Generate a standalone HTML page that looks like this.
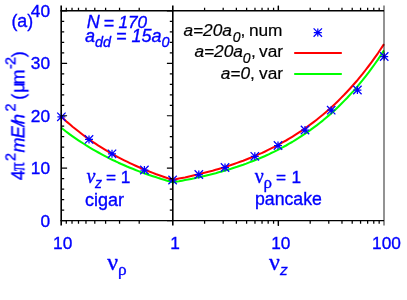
<!DOCTYPE html><html><head><meta charset="utf-8"><style>html,body{margin:0;padding:0;background:#fff}svg{display:block}text{font-family:"Liberation Sans",sans-serif;filter:url(#f)}text[fill="#0000ff"]{stroke:#0000ff;stroke-width:0.35px}text[fill="#000"]{stroke:#000;stroke-width:0.2px}.ser{font-family:"Liberation Serif",serif}.san{font-family:"Liberation Sans",sans-serif}</style></head><body>
<svg width="407" height="300" viewBox="0 0 407 300">
<defs><filter id="f" x="-5%" y="-5%" width="110%" height="110%"><feOffset dx="0" dy="0"/></filter></defs><rect width="407" height="300" fill="#fff"/>
<polyline points="61.2,127.8 64.1,130.0 66.9,132.2 69.8,134.3 72.6,136.3 75.5,138.3 78.4,140.3 81.2,142.2 84.1,144.0 87.0,145.8 89.8,147.6 92.7,149.3 95.5,150.9 98.4,152.5 101.3,154.1 104.1,155.6 107.0,157.1 109.8,158.6 112.7,160.0 115.6,161.3 118.4,162.7 121.3,164.0 124.2,165.2 127.0,166.5 129.9,167.7 132.7,168.8 135.6,170.0 138.5,171.1 141.3,172.2 144.2,173.2 147.0,174.2 149.9,175.2 152.8,176.2 155.6,177.1 158.5,178.1 161.4,179.0 164.2,179.8 167.1,180.7 169.9,181.5 172.8,182.3 172.8,182.4 175.9,181.8 178.9,181.3 182.0,180.7 185.0,180.1 188.1,179.5 191.2,178.9 194.2,178.3 197.3,177.6 200.3,176.9 203.4,176.2 206.5,175.5 209.5,174.8 212.6,174.0 215.7,173.2 218.7,172.3 221.8,171.5 224.8,170.6 227.9,169.7 231.0,168.8 234.0,167.8 237.1,166.8 240.1,165.7 243.2,164.7 246.3,163.6 249.3,162.4 252.4,161.3 255.4,160.0 258.5,158.8 261.6,157.5 264.6,156.2 267.7,154.8 270.7,153.3 273.8,151.9 276.9,150.3 279.9,148.8 283.0,147.2 286.1,145.5 289.1,143.7 292.2,142.0 295.2,140.1 298.3,138.2 301.4,136.2 304.4,134.2 307.5,132.1 310.5,129.9 313.6,127.7 316.7,125.4 319.7,123.0 322.8,120.6 325.8,118.0 328.9,115.4 332.0,112.7 335.0,109.9 338.1,107.0 341.1,104.0 344.2,100.9 347.3,97.7 350.3,94.4 353.4,91.1 356.5,87.6 359.5,83.9 362.6,80.2 365.6,76.3 368.7,72.4 371.8,68.2 374.8,64.0 377.9,59.6 380.9,55.1 384.0,50.4" fill="none" stroke="#00ff00" stroke-width="2.05" stroke-linejoin="round"/>
<polyline points="61.2,116.7 64.1,119.3 66.9,121.9 69.8,124.3 72.6,126.7 75.5,129.0 78.4,131.3 81.2,133.5 84.1,135.7 87.0,137.8 89.8,139.8 92.7,141.8 95.5,143.7 98.4,145.6 101.3,147.4 104.1,149.1 107.0,150.9 109.8,152.5 112.7,154.2 115.6,155.8 118.4,157.3 121.3,158.8 124.2,160.3 127.0,161.7 129.9,163.1 132.7,164.4 135.6,165.7 138.5,167.0 141.3,168.2 144.2,169.5 147.0,170.6 149.9,171.8 152.8,172.9 155.6,174.0 158.5,175.0 161.4,176.0 164.2,177.0 167.1,178.0 169.9,178.9 172.8,179.9 172.8,179.8 175.9,179.2 178.9,178.6 182.0,178.0 185.0,177.4 188.1,176.7 191.2,176.0 194.2,175.3 197.3,174.6 200.3,173.9 203.4,173.1 206.5,172.3 209.5,171.5 212.6,170.7 215.7,169.8 218.7,168.9 221.8,168.0 224.8,167.0 227.9,166.1 231.0,165.0 234.0,164.0 237.1,162.9 240.1,161.8 243.2,160.7 246.3,159.5 249.3,158.3 252.4,157.1 255.4,155.8 258.5,154.4 261.6,153.1 264.6,151.7 267.7,150.2 270.7,148.7 273.8,147.2 276.9,145.6 279.9,143.9 283.0,142.2 286.1,140.5 289.1,138.7 292.2,136.8 295.2,134.9 298.3,132.9 301.4,130.9 304.4,128.8 307.5,126.6 310.5,124.4 313.6,122.1 316.7,119.7 319.7,117.3 322.8,114.8 325.8,112.2 328.9,109.5 332.0,106.7 335.0,103.9 338.1,100.9 341.1,97.9 344.2,94.8 347.3,91.5 350.3,88.2 353.4,84.8 356.5,81.3 359.5,77.6 362.6,73.9 365.6,70.0 368.7,66.0 371.8,61.9 374.8,57.6 377.9,53.3 380.9,48.8 384.0,44.1" fill="none" stroke="#ff0000" stroke-width="2.05" stroke-linejoin="round"/>
<path d="M57.40,116.80H65.40M61.40,112.80V120.80M57.20,112.60L65.60,121.00M57.20,121.00L65.60,112.60" stroke="#0000ff" stroke-width="1.25" fill="none"/>
<path d="M85.00,139.40H93.00M89.00,135.40V143.40M84.80,135.20L93.20,143.60M84.80,143.60L93.20,135.20" stroke="#0000ff" stroke-width="1.25" fill="none"/>
<path d="M108.00,153.80H116.00M112.00,149.80V157.80M107.80,149.60L116.20,158.00M107.80,158.00L116.20,149.60" stroke="#0000ff" stroke-width="1.25" fill="none"/>
<path d="M140.40,170.00H148.40M144.40,166.00V174.00M140.20,165.80L148.60,174.20M140.20,174.20L148.60,165.80" stroke="#0000ff" stroke-width="1.25" fill="none"/>
<path d="M168.60,180.00H176.60M172.60,176.00V184.00M168.40,175.80L176.80,184.20M168.40,184.20L176.80,175.80" stroke="#0000ff" stroke-width="1.25" fill="none"/>
<path d="M194.80,174.50H202.80M198.80,170.50V178.50M194.60,170.30L203.00,178.70M194.60,178.70L203.00,170.30" stroke="#0000ff" stroke-width="1.25" fill="none"/>
<path d="M221.00,167.50H229.00M225.00,163.50V171.50M220.80,163.30L229.20,171.70M220.80,171.70L229.20,163.30" stroke="#0000ff" stroke-width="1.25" fill="none"/>
<path d="M250.80,156.30H258.80M254.80,152.30V160.30M250.60,152.10L259.00,160.50M250.60,160.50L259.00,152.10" stroke="#0000ff" stroke-width="1.25" fill="none"/>
<path d="M274.00,145.50H282.00M278.00,141.50V149.50M273.80,141.30L282.20,149.70M273.80,149.70L282.20,141.30" stroke="#0000ff" stroke-width="1.25" fill="none"/>
<path d="M301.00,130.00H309.00M305.00,126.00V134.00M300.80,125.80L309.20,134.20M300.80,134.20L309.20,125.80" stroke="#0000ff" stroke-width="1.25" fill="none"/>
<path d="M327.20,110.20H335.20M331.20,106.20V114.20M327.00,106.00L335.40,114.40M327.00,114.40L335.40,106.00" stroke="#0000ff" stroke-width="1.25" fill="none"/>
<path d="M353.40,90.00H361.40M357.40,86.00V94.00M353.20,85.80L361.60,94.20M353.20,94.20L361.60,85.80" stroke="#0000ff" stroke-width="1.25" fill="none"/>
<path d="M380.20,56.50H388.20M384.20,52.50V60.50M380.00,52.30L388.40,60.70M380.00,60.70L388.40,52.30" stroke="#0000ff" stroke-width="1.25" fill="none"/>
<line x1="294.2" x2="341.8" y1="52.9" y2="52.9" stroke="#ff0000" stroke-width="2"/>
<line x1="294.2" x2="341.8" y1="74.1" y2="74.1" stroke="#00ff00" stroke-width="2"/>
<path d="M313.80,32.60H321.80M317.80,28.60V36.60M313.60,28.40L322.00,36.80M313.60,36.80L322.00,28.40" stroke="#0000ff" stroke-width="1.25" fill="none"/>
<path d="M61.2,5.55V225.45000000000002" stroke="#000" stroke-width="1.6" fill="none"/>
<path d="M60.400000000000006,10.85H384.0" stroke="#000" stroke-width="1.5" fill="none"/>
<path d="M60.400000000000006,220.65H384.0" stroke="#000" stroke-width="1.4" fill="none"/>
<path d="M172.8,5.55V225.45000000000002" stroke="#000" stroke-width="1.6" fill="none"/>
<path d="M384.0,5.55V225.45000000000002" stroke="#000" stroke-opacity="0.5" stroke-width="1.7" fill="none"/>
<path d="M61.2,220.65h5.9M172.8,220.65h-5.9" stroke="#000" stroke-width="1.2"/>
<path d="M61.2,210.16h3M172.8,210.16h-3" stroke="#000" stroke-width="1.25"/>
<path d="M61.2,199.67h3M172.8,199.67h-3" stroke="#000" stroke-width="1.25"/>
<path d="M61.2,189.18h3M172.8,189.18h-3" stroke="#000" stroke-width="1.25"/>
<path d="M61.2,178.69h3M172.8,178.69h-3" stroke="#000" stroke-width="1.25"/>
<path d="M61.2,168.20h5.9M172.8,168.20h-5.9" stroke="#000" stroke-width="1.2"/>
<path d="M61.2,157.71h3M172.8,157.71h-3" stroke="#000" stroke-width="1.25"/>
<path d="M61.2,147.22h3M172.8,147.22h-3" stroke="#000" stroke-width="1.25"/>
<path d="M61.2,136.73h3M172.8,136.73h-3" stroke="#000" stroke-width="1.25"/>
<path d="M61.2,126.24h3M172.8,126.24h-3" stroke="#000" stroke-width="1.25"/>
<path d="M61.2,115.75h5.9M172.8,115.75h-5.9" stroke="#000" stroke-width="1.2"/>
<path d="M61.2,105.26h3M172.8,105.26h-3" stroke="#000" stroke-width="1.25"/>
<path d="M61.2,94.77h3M172.8,94.77h-3" stroke="#000" stroke-width="1.25"/>
<path d="M61.2,84.28h3M172.8,84.28h-3" stroke="#000" stroke-width="1.25"/>
<path d="M61.2,73.79h3M172.8,73.79h-3" stroke="#000" stroke-width="1.25"/>
<path d="M61.2,63.30h5.9M172.8,63.30h-5.9" stroke="#000" stroke-width="1.2"/>
<path d="M61.2,52.81h3M172.8,52.81h-3" stroke="#000" stroke-width="1.25"/>
<path d="M61.2,42.32h3M172.8,42.32h-3" stroke="#000" stroke-width="1.25"/>
<path d="M61.2,31.83h3M172.8,31.83h-3" stroke="#000" stroke-width="1.25"/>
<path d="M61.2,21.34h3M172.8,21.34h-3" stroke="#000" stroke-width="1.25"/>
<path d="M61.2,10.85h5.9M172.8,10.85h-5.9" stroke="#000" stroke-width="1.2"/>
<path d="M139.21,220.65v3M139.21,10.85v-3" stroke="#000" stroke-width="1.25"/>
<path d="M119.55,220.65v3M119.55,10.85v-3" stroke="#000" stroke-width="1.25"/>
<path d="M105.61,220.65v3M105.61,10.85v-3" stroke="#000" stroke-width="1.25"/>
<path d="M94.79,220.65v3M94.79,10.85v-3" stroke="#000" stroke-width="1.25"/>
<path d="M85.96,220.65v3M85.96,10.85v-3" stroke="#000" stroke-width="1.25"/>
<path d="M78.49,220.65v3M78.49,10.85v-3" stroke="#000" stroke-width="1.25"/>
<path d="M72.02,220.65v3M72.02,10.85v-3" stroke="#000" stroke-width="1.25"/>
<path d="M66.31,220.65v3M66.31,10.85v-3" stroke="#000" stroke-width="1.25"/>
<path d="M204.59,220.65v3M204.59,10.85v-3" stroke="#000" stroke-width="1.25"/>
<path d="M223.18,220.65v3M223.18,10.85v-3" stroke="#000" stroke-width="1.25"/>
<path d="M236.38,220.65v3M236.38,10.85v-3" stroke="#000" stroke-width="1.25"/>
<path d="M246.61,220.65v3M246.61,10.85v-3" stroke="#000" stroke-width="1.25"/>
<path d="M254.97,220.65v3M254.97,10.85v-3" stroke="#000" stroke-width="1.25"/>
<path d="M262.04,220.65v3M262.04,10.85v-3" stroke="#000" stroke-width="1.25"/>
<path d="M268.17,220.65v3M268.17,10.85v-3" stroke="#000" stroke-width="1.25"/>
<path d="M273.57,220.65v3M273.57,10.85v-3" stroke="#000" stroke-width="1.25"/>
<path d="M278.40,220.65v5M278.40,10.85v-5" stroke="#000" stroke-width="1.25"/>
<path d="M278.40,220.65v5M278.40,10.85v-5" stroke="#000" stroke-width="1.25"/>
<path d="M310.19,220.65v3M310.19,10.85v-3" stroke="#000" stroke-width="1.25"/>
<path d="M328.78,220.65v3M328.78,10.85v-3" stroke="#000" stroke-width="1.25"/>
<path d="M341.98,220.65v3M341.98,10.85v-3" stroke="#000" stroke-width="1.25"/>
<path d="M352.21,220.65v3M352.21,10.85v-3" stroke="#000" stroke-width="1.25"/>
<path d="M360.57,220.65v3M360.57,10.85v-3" stroke="#000" stroke-width="1.25"/>
<path d="M367.64,220.65v3M367.64,10.85v-3" stroke="#000" stroke-width="1.25"/>
<path d="M373.77,220.65v3M373.77,10.85v-3" stroke="#000" stroke-width="1.25"/>
<path d="M379.17,220.65v3M379.17,10.85v-3" stroke="#000" stroke-width="1.25"/>
<text x="50.1" y="226.8" font-size="17.3" fill="#0000ff" text-anchor="end">0</text>
<text x="50.1" y="174.3" font-size="17.3" fill="#0000ff" text-anchor="end">10</text>
<text x="50.1" y="121.8" font-size="17.3" fill="#0000ff" text-anchor="end">20</text>
<text x="50.1" y="69.4" font-size="17.3" fill="#0000ff" text-anchor="end">30</text>
<text x="50.1" y="16.9" font-size="17.3" fill="#0000ff" text-anchor="end">40</text>
<text x="11.4" y="27.2" font-size="17.8" fill="#0000ff">(a)</text>
<text x="62.7" y="249" font-size="17.3" fill="#0000ff" text-anchor="middle">10</text>
<text x="175" y="249" font-size="17.3" fill="#0000ff" text-anchor="middle">1</text>
<text x="280.8" y="249" font-size="17.3" fill="#0000ff" text-anchor="middle">10</text>
<text x="386.5" y="249" font-size="17.3" fill="#0000ff" text-anchor="middle">100</text>
<text x="107.2" y="270.2" font-size="24" fill="#0000ff" class="ser">ν<tspan font-size="17.3" x="118.1" dy="4.4">ρ</tspan></text>
<text x="268.9" y="270.2" font-size="24" fill="#0000ff" class="ser">ν<tspan font-size="15.5" x="280" dy="4.5" font-style="italic" class="san">z</tspan></text>
<text transform="translate(24.4,0) rotate(-90)" fill="#0000ff"><tspan x="-180.3" y="0" font-size="18" >4</tspan><tspan x="-160.9" y="-9" font-size="14.4" >2</tspan><tspan x="-152.6" y="0" font-size="18" font-style="italic">m</tspan><tspan x="-138.2" y="0" font-size="18" font-style="italic">E</tspan><tspan x="-126.6" y="0" font-size="18" font-style="italic">/</tspan><tspan x="-124.2" y="0" font-size="18.5" font-style="italic">h</tspan><tspan x="-111.5" y="-9" font-size="14.4" >2</tspan><tspan x="-99.8" y="0" font-size="18" >(</tspan><tspan x="-92.8" y="0" font-size="18" >μ</tspan><tspan x="-84.6" y="0" font-size="18" >m</tspan><tspan x="-69.0" y="-9" font-size="14.4" >-</tspan><tspan x="-64.9" y="-9" font-size="14.4" >2</tspan><tspan x="-57.2" y="0" font-size="18" >)</tspan></text>
<text transform="translate(24.4,170.9) rotate(-90) scale(1,1.22)" font-size="17" class="ser" fill="#0000ff">π</text>
<text x="86.8" y="27.8" font-size="18" fill="#0000ff" font-style="italic">N<tspan dy="1.1" dx="-1.3"> =</tspan><tspan dy="-1.1" dx="-0.3" font-size="17.2"> 170</tspan></text>
<text x="85" y="41.5" font-size="18" fill="#0000ff" font-style="italic">a<tspan font-size="14.4" dy="5.5">dd</tspan><tspan dy="-4.7"> =</tspan><tspan dy="-0.8"> 15a</tspan><tspan font-size="14.4" dy="5.5">0</tspan></text>
<text x="86.5" y="182.5" font-size="17.3" fill="#0000ff"><tspan class="ser" font-size="20" font-style="italic">ν</tspan><tspan font-size="14" x="95" dy="5.1" font-style="italic">z</tspan><tspan x="101.1" dy="-4.3"> =</tspan><tspan dy="-0.8"> 1</tspan></text>
<text x="85" y="206" font-size="18" fill="#0000ff">cigar</text>
<text x="254.7" y="182.5" font-size="17.3" fill="#0000ff"><tspan class="ser" font-size="20">ν</tspan><tspan class="ser" font-size="17" x="263.6" dy="5.3">ρ</tspan><tspan x="276.1" dy="-4.6">=</tspan><tspan x="291.6" dy="-0.7">1</tspan></text>
<text x="255" y="205.2" font-size="17.7" fill="#0000ff">pancake</text>
<text font-size="17.3" fill="#000"><tspan x="183.4" y="36.4" font-style="italic" font-size="17.3">a=20a</tspan><tspan x="232.8" y="42.199999999999996" font-style="italic" font-size="14">0</tspan><tspan x="240.5" y="36.4">,</tspan><tspan x="248.9" y="36.4">num</tspan></text>
<text font-size="17.3" fill="#000"><tspan x="194.4" y="57.2" font-style="italic" font-size="17.3">a=20a</tspan><tspan x="242.7" y="63.0" font-style="italic" font-size="14">0</tspan><tspan x="250.9" y="57.2">,</tspan><tspan x="259.1" y="57.2">var</tspan></text>
<text font-size="17.3" fill="#000"><tspan x="220.7" y="79" font-style="italic" font-size="17.3">a=0</tspan><tspan x="249.9" y="79">,</tspan><tspan x="259.1" y="79">var</tspan></text>
</svg></body></html>
